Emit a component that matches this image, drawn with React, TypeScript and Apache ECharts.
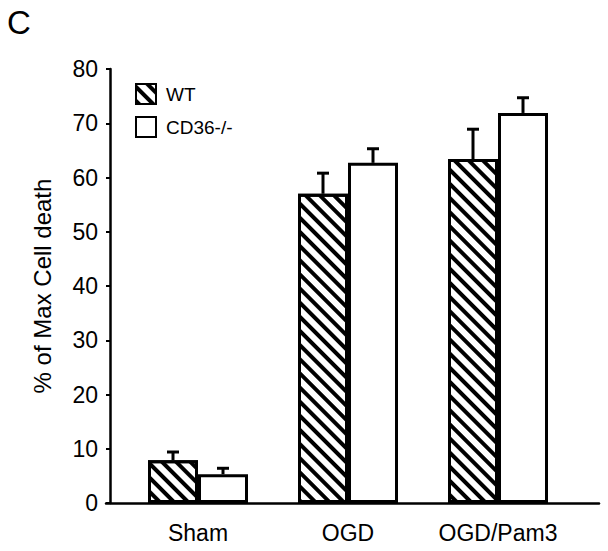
import React, { useEffect, useRef } from "react";
import * as echarts from "echarts";

const categories = ["Sham", "OGD", "OGD/Pam3"];
const wtMeans = [7.9, 57.0, 63.4];
const wtErrors = [1.5, 3.8, 5.5];
const koMeans = [5.3, 62.7, 71.9];
const koErrors = [1.1, 2.6, 2.8];
const yTicks = { min: 0, max: 80, interval: 10 };

const FONT = "Liberation Sans, Arial, sans-serif";

function errSeries(name: string, means: number[], errs: number[], dx: number) {
  return {
    type: "custom",
    name,
    xAxisIndex: 0,
    yAxisIndex: 0,
    z: 1,
    data: means.map((m, i) => [i, m, errs[i]]),
    encode: { x: 0, y: 1 },
    renderItem: (params: any, api: any) => {
      const i = api.value(0);
      const m = api.value(1);
      const e = api.value(2);
      const base = api.coord([i, m]);
      const top = api.coord([i, m + e]);
      const x = base[0] + dx;
      return {
        type: "group",
        children: [
          { type: "line", shape: { x1: x, y1: base[1], x2: x, y2: top[1] }, style: { stroke: "#000", lineWidth: 3 } },
          { type: "line", shape: { x1: x - 6, y1: top[1], x2: x + 6, y2: top[1] }, style: { stroke: "#000", lineWidth: 3 } },
        ],
      };
    },
  };
}

export default function App() {
  const ref = useRef<HTMLDivElement>(null);
  useEffect(() => {
    document.body.style.margin = "0";
    const chart = echarts.init(ref.current!, null, { renderer: "svg" });
    chart.setOption({
      animation: false,
      backgroundColor: "#fff",
      textStyle: { fontFamily: FONT },
      graphic: [
        { type: "text", left: 7, top: 6, style: { text: "C", fontSize: 33, fontFamily: FONT, fill: "#000" } },
      ],
      legend: {
        data: ["WT", "CD36-/-"],
        orient: "vertical",
        left: 130,
        top: 78,
        itemWidth: 20,
        itemHeight: 20,
        itemGap: 11,
        icon: "rect",
        textStyle: { fontSize: 19, color: "#000", fontFamily: FONT, padding: [0, 0, 0, 5] },
        itemStyle: { borderWidth: 2, borderColor: "#000" },
      },
      grid: [
        { left: 123, right: 35, top: 69, bottom: 48 },
        { left: 106, right: 9, top: 69, bottom: 48 },
      ],
      xAxis: [
        {
          type: "category",
          gridIndex: 0,
          data: categories,
          axisLine: { show: false },
          axisTick: { show: false },
          axisLabel: { interval: 0, fontSize: 23, color: "#000", margin: 18, fontFamily: FONT },
        },
        {
          type: "value",
          gridIndex: 1,
          min: 0,
          max: 1,
          axisLine: { show: true, lineStyle: { color: "#000", width: 2.5 } },
          axisTick: { show: false },
          axisLabel: { show: false },
          splitLine: { show: false },
        },
      ],
      yAxis: [
        {
          type: "value",
          gridIndex: 0,
          min: yTicks.min,
          max: yTicks.max,
          interval: yTicks.interval,
          offset: 13,
          name: "% of Max Cell death",
          nameLocation: "middle",
          nameGap: 56,
          nameTextStyle: { fontSize: 24, color: "#000", fontFamily: FONT },
          axisLine: { show: true, lineStyle: { color: "#000", width: 2.5 } },
          axisTick: { show: true, length: 4, lineStyle: { color: "#000", width: 2 } },
          axisLabel: { fontSize: 23, color: "#000", margin: 12, fontFamily: FONT },
          splitLine: { show: false },
        },
        { type: "value", gridIndex: 1, show: false, min: 0, max: 1 },
      ],
      series: [
        {
          type: "bar",
          name: "WT",
          xAxisIndex: 0,
          yAxisIndex: 0,
          data: wtMeans,
          barWidth: 50,
          barGap: "0%",
          z: 2,
          itemStyle: {
            color: "#fff",
            borderColor: "#000",
            borderWidth: 3,
            decal: {
              symbol: "rect",
              symbolSize: 1,
              color: "#000",
              dashArrayX: [1, 0],
              dashArrayY: [4, 6],
              rotation: Math.PI / 4,
            },
          },
        },
        {
          type: "bar",
          name: "CD36-/-",
          xAxisIndex: 0,
          yAxisIndex: 0,
          data: koMeans,
          barWidth: 50,
          barGap: "0%",
          z: 2,
          itemStyle: { color: "#fff", borderColor: "#000", borderWidth: 3 },
        },
        errSeries("WT err", wtMeans, wtErrors, -25),
        errSeries("CD36 err", koMeans, koErrors, 25),
      ],
    });
    return () => chart.dispose();
  }, []);
  return <div ref={ref} style={{ width: 608, height: 551 }} />;
}
